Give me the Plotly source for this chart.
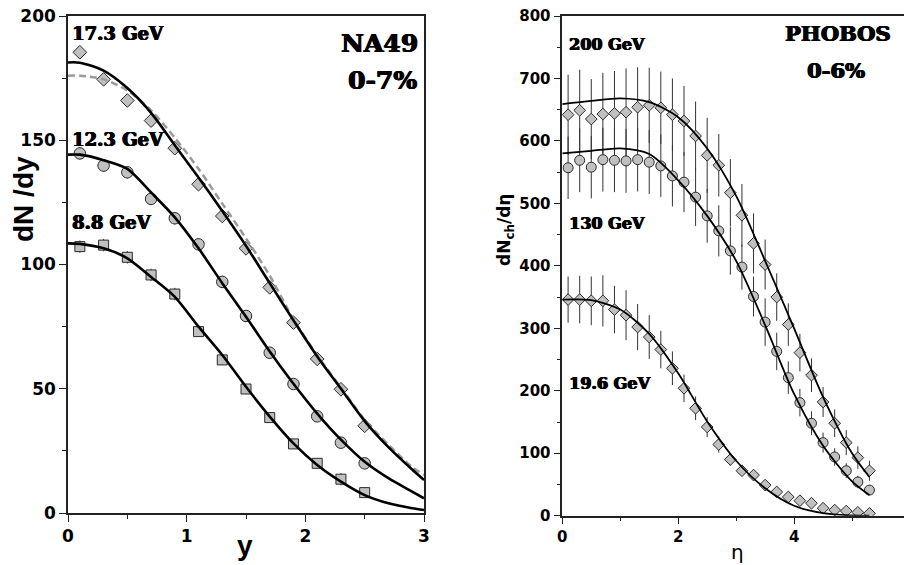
import plotly.graph_objects as go

# ---------------- Left panel (NA49, 0-7%) ----------------
y_pts = [0.1, 0.3, 0.5, 0.7, 0.9, 1.1, 1.3, 1.5, 1.7, 1.9, 2.1, 2.3, 2.5]
na49_173 = [185.4, 174.5, 166.0, 157.9, 146.8, 132.3, 119.5, 106.5, 90.8, 76.6, 62.0, 49.8, 35.1]
na49_123 = [144.7, 139.8, 137.1, 126.4, 118.6, 108.1, 93.0, 79.3, 64.5, 51.9, 38.9, 28.3, 20.0]
na49_88 = [107.2, 107.8, 102.9, 95.8, 88.1, 73.0, 61.6, 49.9, 38.4, 27.8, 20.0, 13.6, 8.2]
err_123 = [2.5, 2.5, 2.5, 2.5, 2.5, 2.5, 2.5, 2.0, 2.0, 2.0, 1.5, 1.5, 1.5]
err_88 = [2.5, 2.5, 2.5, 2.5, 2.5, 2.0, 2.0, 2.0, 2.0, 1.5, 1.5, 2.5, 1.5]

y_curve = [0, 0.1, 0.3, 0.5, 0.7, 0.9, 1.1, 1.3, 1.5, 1.7, 1.9, 2.1, 2.3, 2.5, 2.7, 2.9, 3.0]
fit_173 = [181.3, 181.2, 178.0, 171.0, 161.0, 148.0, 135.0, 121.5, 107.5, 92.5, 77.5, 63.0, 50.0, 37.0, 26.5, 17.5, 13.3]
fit_173_dash = [176.0, 176.0, 174.5, 170.0, 162.0, 151.0, 138.5, 124.5, 110.5, 95.5, 78.0, 63.5, 50.5, 37.5, 27.5, 18.5, 15.3]
fit_123 = [144.2, 144.2, 142.0, 138.5, 129.0, 119.0, 106.5, 92.5, 79.0, 65.0, 52.0, 40.0, 29.5, 20.6, 14.0, 8.6, 5.9]
fit_88 = [108.5, 108.3, 106.5, 102.5, 95.0, 87.0, 75.0, 63.6, 50.8, 38.8, 28.0, 19.3, 12.6, 7.2, 3.9, 1.9, 1.2]

# ---------------- Right panel (PHOBOS, 0-6%) ----------------
eta_pts = [0.1, 0.3, 0.5, 0.7, 0.9, 1.1, 1.3, 1.5, 1.7, 1.9, 2.1, 2.3, 2.5, 2.7,
           2.9, 3.1, 3.3, 3.5, 3.7, 3.9, 4.1, 4.3, 4.5, 4.7, 4.9, 5.1, 5.3]
ph_200 = [642, 649, 635, 643, 644, 646, 654, 657, 653, 642, 632, 608, 577, 561,
          517, 481, 436, 402, 350, 306, 261, 225, 182, 148, 117, 93, 72]
ph_130 = [557, 569, 558, 570, 569, 568, 570, 566, 560, 544, 534, 510, 480, 456,
          424, 398, 351, 310, 263, 221, 181, 148, 117, 94, 72, 54, 41]
ph_196 = [346, 346, 344, 344, 330, 321, 302, 286, 266, 236, 204, 172, 142, 114,
          90, 72, 65, 49, 38, 30, 24, 20, 12, 9, 7.5, 5.4, 3.8]
err_200 = [64, 65, 64, 66, 68, 70, 64, 60, 58, 58, 56, 55, 60, 50,
           54, 50, 48, 40, 38, 34, 30, 27, 24, 22, 20, 18, 16]
err_130 = [50, 51, 50, 51, 51, 51, 51, 51, 50, 49, 48, 46, 43, 41,
           38, 36, 32, 38, 30, 26, 22, 19, 16, 14, 12, 10, 8]
err_196 = [37, 38, 39, 41, 38, 40, 37, 35, 30, 27, 22, 19, 16, 13,
           10, 8, 7, 6, 5, 4, 3, 3, 2, 2, 1, 1, 1]

eta_curve = [0, 0.5, 1.0, 1.5, 2.0, 2.5, 3.0, 3.5, 4.0, 4.5, 5.0, 5.3]
fit_200 = [659, 664, 668, 662, 638, 588, 512, 408, 300, 190, 100, 62]
fit_130 = [580, 584, 588, 579, 537, 480, 408, 305, 195, 112, 55, 33]
fit_196 = [346, 345, 330, 291, 228, 151, 88, 44, 16, 4, 0.5, 0]

# the page body has an 8px margin, so the figure is drawn 8px in from the corner
OFF = 8
W, H = 912 - OFF, 565 - OFF
FILL = "#c0c0c0"
EDGE = "#2a2a2a"
SERIF = "DejaVu Serif"
SANS = "DejaVu Sans"
ARIAL = "Liberation Sans, Arial"
HEAVY = "0.8px 0px 0px black, -0.5px 0px 0px black, 0px 0.4px 0px black"

fig = go.Figure()

def curve(x, y, xa, ya, width, color="black", dash="solid"):
    fig.add_trace(go.Scatter(x=x, y=y, mode="lines", xaxis=xa, yaxis=ya,
                             line=dict(color=color, width=width, dash=dash,
                                       shape="spline", smoothing=0.8),
                             hoverinfo="skip", showlegend=False))

def points(x, y, xa, ya, symbol, size, err=None):
    kw = {}
    if err is not None:
        kw["error_y"] = dict(type="data", array=err, visible=True,
                             color="#333333", thickness=1, width=0)
    fig.add_trace(go.Scatter(x=x, y=y, mode="markers", xaxis=xa, yaxis=ya,
                             marker=dict(symbol=symbol, size=size, color=FILL,
                                         line=dict(color=EDGE, width=1)),
                             showlegend=False, **kw))

# left panel
points(y_pts, na49_173, "x", "y", "diamond", 10.5)
points(y_pts, na49_123, "x", "y", "circle", 11.5, err_123)
points(y_pts, na49_88, "x", "y", "square", 10, err_88)
curve(y_curve, fit_173_dash, "x", "y", 2.5, color="#9a9a9a", dash="7px,4px")
curve(y_curve, fit_173, "x", "y", 2.6)
curve(y_curve, fit_123, "x", "y", 2.6)
curve(y_curve, fit_88, "x", "y", 2.6)

# right panel
points(eta_pts, ph_200, "x2", "y2", "diamond", 9, err_200)
points(eta_pts, ph_130, "x2", "y2", "circle", 10, err_130)
points(eta_pts, ph_196, "x2", "y2", "diamond", 9, err_196)
curve(eta_curve, fit_200, "x2", "y2", 1.8)
curve(eta_curve, fit_130, "x2", "y2", 1.8)
curve(eta_curve, fit_196, "x2", "y2", 1.8)

def px_x(p):
    return (p - OFF) / W

def px_y(p):
    return 1 - (p - OFF) / H

axis_common = dict(showgrid=False, zeroline=False, showline=True, linecolor="#222222",
                   linewidth=1.5, mirror=True, ticks="outside", ticklen=7,
                   tickwidth=1.2, tickcolor="#222222", automargin=False,
                   ticklabeloverflow="allow")

fig.update_layout(
    width=W, height=H, margin=dict(l=0, r=0, t=0, b=0, autoexpand=False),
    paper_bgcolor="white", plot_bgcolor="white", showlegend=False,
    xaxis=dict(domain=[px_x(68), px_x(424)], range=[0, 3], dtick=1, tick0=0,
               tickfont=dict(family=SANS, size=17, color="black", weight="bold"),
               minor=dict(dtick=0.5, ticklen=4, tickcolor="#222222", ticks="outside"),
               anchor="y", **axis_common),
    yaxis=dict(domain=[px_y(513), px_y(16)], range=[0, 200], dtick=50, tick0=0,
               tickfont=dict(family=SANS, size=17, color="black", weight="bold"),
               minor=dict(dtick=25, ticklen=4, tickcolor="#222222", ticks="outside"),
               anchor="x", **axis_common),
    xaxis2=dict(domain=[px_x(562.3), px_x(910)], range=[0, 6], dtick=2, tick0=0,
                tickfont=dict(family=SANS, size=15, color="black", weight="bold"),
                minor=dict(dtick=1, ticklen=4, tickcolor="#222222", ticks="outside"),
                anchor="y2", **axis_common),
    yaxis2=dict(domain=[px_y(515.7), px_y(16)], range=[0, 800], dtick=100, tick0=0,
                tickfont=dict(family=SANS, size=15, color="black", weight="bold"),
                minor=dict(dtick=50, ticklen=4, tickcolor="#222222", ticks="outside"),
                anchor="x2", **axis_common),
)

def label(text, x, y, xref, yref, size, family=SERIF, weight="bold", xanchor="left",
          yanchor="middle", angle=0, align="left", shadow="none"):
    fig.add_annotation(text=text, x=x, y=y, xref=xref, yref=yref, showarrow=False,
                       xanchor=xanchor, yanchor=yanchor, textangle=angle, align=align,
                       font=dict(family=family, size=size, color="black", weight=weight,
                                 shadow=shadow))

# left panel text
label("17.3 GeV", 0.017, 193, "x", "y", 18, shadow=HEAVY)
label("12.3 GeV", 0.017, 150.5, "x", "y", 18, shadow=HEAVY)
label("8.8 GeV", 0.017, 117, "x", "y", 18, shadow=HEAVY)
label("NA49", 2.965, 189, "x", "y", 25, xanchor="right", shadow=HEAVY)
label("0-7%", 2.96, 174.2, "x", "y", 25, xanchor="right", shadow=HEAVY)

# right panel text
label("200 GeV", 0.08, 755, "x2", "y2", 16, shadow=HEAVY)
label("130 GeV", 0.08, 468, "x2", "y2", 16, shadow=HEAVY)
label("19.6 GeV", 0.08, 212, "x2", "y2", 16, shadow=HEAVY)
label("PHOBOS", 4.75, 772, "x2", "y2", 21, xanchor="center", shadow=HEAVY)
label("0-6%", 4.73, 713, "x2", "y2", 21, xanchor="center", shadow=HEAVY)

# axis titles
label("dN /dy", px_x(24), px_y(199), "paper", "paper", 28, family=ARIAL,
      xanchor="center", angle=-90)
label("y", px_x(245), px_y(545), "paper", "paper", 28, family=ARIAL, xanchor="center")
label("dN<sub>ch</sub>/dη", px_x(505), px_y(230), "paper", "paper", 17, family=SANS,
      xanchor="center", angle=-90)
label("η", px_x(737), px_y(552), "paper", "paper", 20, family=SANS, weight="normal",
      xanchor="center")

fig.write_html("out.html")
